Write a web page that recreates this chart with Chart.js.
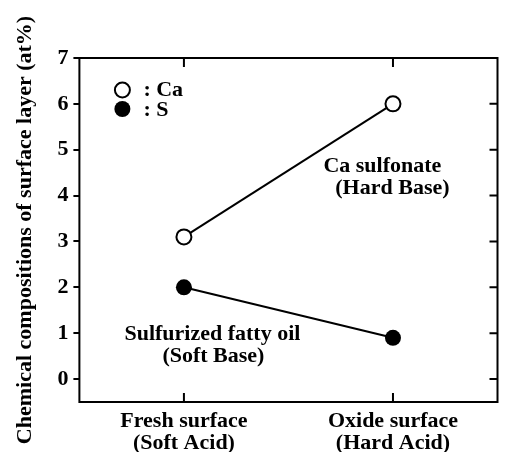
<!DOCTYPE html>
<html>
<head>
<meta charset="utf-8">
<script src="https://cdn.jsdelivr.net/npm/chart.js@4/dist/chart.umd.min.js"></script>
<style>
  html, body { margin: 0; padding: 0; background: #fff; }
  #wrap { width: 507px; height: 452px; }
</style>
</head>
<body>
<div id="wrap"><canvas id="myChart" width="507" height="452"></canvas></div>
<script>
const surfaces = [["Fresh surface", "(Soft Acid)"], ["Oxide surface", "(Hard Acid)"]];
const caValues = [3.1, 6.0];
const sValues = [2.0, 0.9];
const yTicks = [0, 1, 2, 3, 4, 5, 6, 7];

const FONT = "'Liberation Serif', 'Times New Roman', serif";

// frame, inside ticks, legend and the two notes
const framePlugin = {
  id: "frame",
  afterDraw(chart) {
    const c = chart.ctx;
    const a = chart.chartArea;
    const x = chart.scales.x;
    const y = chart.scales.y;
    c.save();
    c.strokeStyle = "#000";
    c.lineWidth = 2;
    c.strokeRect(a.left, a.top, a.right - a.left, a.bottom - a.top);

    c.beginPath();
    surfaces.forEach((s, i) => {
      const px = x.getPixelForValue(i);
      c.moveTo(px, a.bottom); c.lineTo(px, a.bottom - 9);
      c.moveTo(px, a.top); c.lineTo(px, a.top + 9);
    });
    yTicks.forEach(v => {
      const py = y.getPixelForValue(v);
      c.moveTo(a.right, py); c.lineTo(a.right - 8, py);
    });
    c.stroke();

    // legend
    const lx = a.left + 43;
    c.lineWidth = 2;
    c.beginPath();
    c.arc(lx, a.top + 32, 7.5, 0, Math.PI * 2);
    c.fillStyle = "#fff";
    c.fill();
    c.stroke();
    c.beginPath();
    c.arc(lx, a.top + 51, 8, 0, Math.PI * 2);
    c.fillStyle = "#000";
    c.fill();

    c.fillStyle = "#000";
    c.font = "bold 22px " + FONT;
    c.textBaseline = "middle";
    c.textAlign = "left";
    c.fillText(": Ca", a.left + 64, a.top + 32);
    c.fillText(": S", a.left + 64, a.top + 52);

    c.textAlign = "center";
    c.fillText("Ca sulfonate", a.left + 303, a.top + 108);
    c.fillText("(Hard Base)", a.left + 313, a.top + 130);
    c.fillText("Sulfurized fatty oil", a.left + 133, a.top + 276);
    c.fillText("(Soft Base)", a.left + 134, a.top + 298);
    c.restore();
  }
};

const ctx = document.getElementById("myChart").getContext("2d");
const myChart = new Chart(ctx, {
  type: "line",
  data: {
    labels: surfaces,
    datasets: [
      {
        label: "Ca",
        data: caValues,
        borderColor: "#000",
        borderWidth: 2,
        pointRadius: 7.5,
        pointBorderWidth: 2,
        pointBackgroundColor: "#fff",
        pointBorderColor: "#000",
        tension: 0
      },
      {
        label: "S",
        data: sValues,
        borderColor: "#000",
        borderWidth: 2,
        pointRadius: 8,
        pointBorderWidth: 0,
        pointBackgroundColor: "#000",
        pointBorderColor: "#000",
        tension: 0
      }
    ]
  },
  options: {
    responsive: false,
    animation: false,
    layout: { padding: { left: 0, right: 9, top: 58, bottom: -2 } },
    plugins: {
      legend: { display: false },
      tooltip: { enabled: false }
    },
    scales: {
      x: {
        type: "category",
        offset: true,
        grid: { display: false },
        border: { display: false },
        ticks: {
          color: "#000",
          padding: 0,
          maxRotation: 0,
          font: { family: FONT, size: 22, weight: "bold", lineHeight: 1.0 }
        }
      },
      y: {
        min: -0.5,
        max: 7,
        afterBuildTicks: scale => {
          scale.ticks = yTicks.map(v => ({ value: v }));
        },
        grid: {
          drawOnChartArea: false,
          tickLength: 6,
          color: "#000",
          lineWidth: 2
        },
        border: { display: false },
        ticks: {
          color: "#000",
          padding: 5,
          font: { family: FONT, size: 22, weight: "bold" }
        },
        title: {
          display: true,
          text: "Chemical compositions of surface layer (at%)",
          color: "#000",
          padding: { top: 12, bottom: 14 },
          font: { family: FONT, size: 22, weight: "bold" }
        }
      }
    }
  },
  plugins: [framePlugin]
});
</script>
</body>
</html>
